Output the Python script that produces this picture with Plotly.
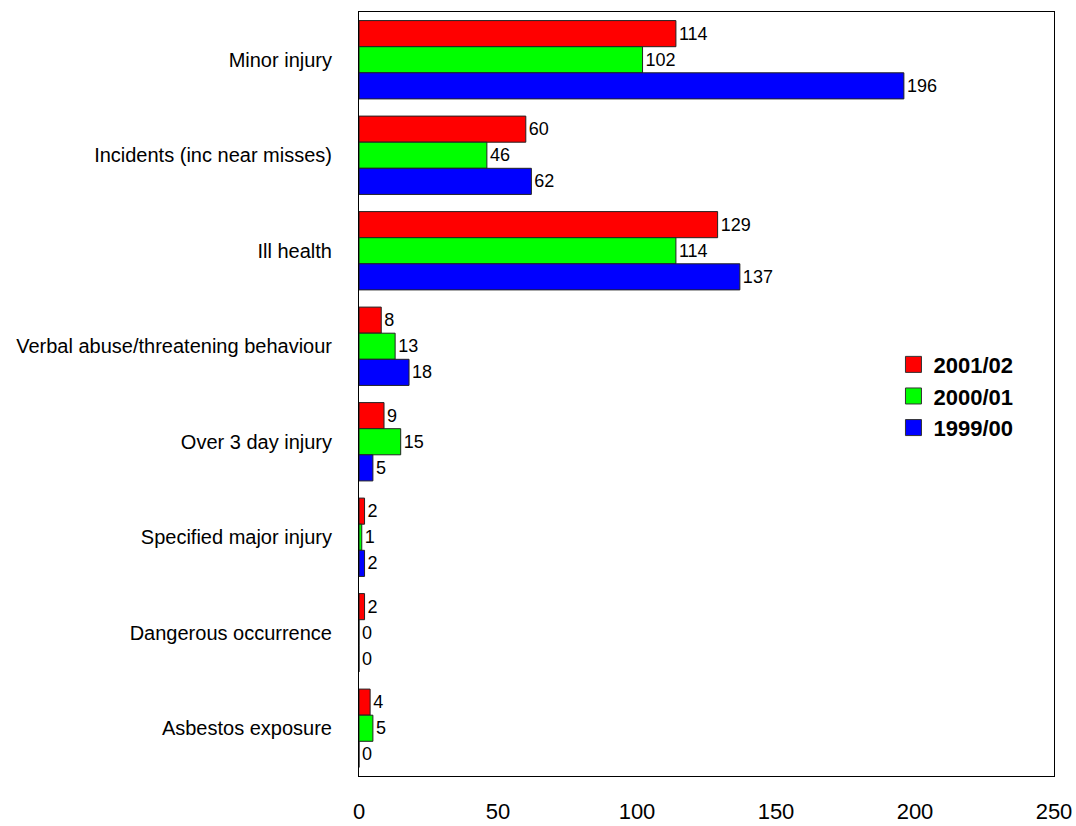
import plotly.graph_objects as go

categories = [
    "Minor injury",
    "Incidents (inc near misses)",
    "Ill health",
    "Verbal abuse/threatening behaviour",
    "Over 3 day injury",
    "Specified major injury",
    "Dangerous occurrence",
    "Asbestos exposure",
]
years = ["2001/02", "2000/01", "1999/00"]
values_2001_02 = [114, 60, 129, 8, 9, 2, 2, 4]
values_2000_01 = [102, 46, 114, 13, 15, 1, 0, 5]
values_1999_00 = [196, 62, 137, 18, 5, 2, 0, 0]
colors = ["#ff0000", "#00ff00", "#0000ff"]
x_ticks = [0, 50, 100, 150, 200, 250]

FONT = "Arial, Liberation Sans"

fig = go.Figure()
for name, vals, col in zip(years, [values_2001_02, values_2000_01, values_1999_00], colors):
    fig.add_trace(go.Bar(
        y=categories, x=vals, name=name, orientation="h", showlegend=False,
        marker=dict(color=col, line=dict(color="#222222", width=1)),
        text=[str(v) for v in vals], textposition="outside",
        constraintext="none",
        textfont=dict(family=FONT, size=18, color="black"),
        cliponaxis=False,
    ))

# legend entries with square swatches
for name, col in zip(years, colors):
    fig.add_trace(go.Scatter(
        x=[None], y=[None], mode="markers", name=name,
        marker=dict(symbol="square", size=16, color=col,
                    line=dict(color="#333333", width=1)),
    ))

fig.update_layout(
    width=1076, height=826,
    margin=dict(l=359, r=22, t=12, b=50),
    paper_bgcolor="white", plot_bgcolor="white",
    barmode="group", bargap=0.18, bargroupgap=0,
    font=dict(family=FONT, color="black"),
    showlegend=True,
    legend=dict(
        x=0.769, y=0.566, xanchor="left", yanchor="top",
        font=dict(size=22, family=FONT, weight="bold"),
        bgcolor="rgba(0,0,0,0)", tracegroupgap=0, itemwidth=30,
    ),
)
fig.update_xaxes(
    range=[0, 250], tickvals=x_ticks, showgrid=False, zeroline=False,
    showline=True, linecolor="black", linewidth=1, mirror=True,
    ticks="outside", ticklen=16, tickcolor="rgba(0,0,0,0)",
    tickfont=dict(size=22), automargin=False,
)
fig.update_yaxes(
    autorange="reversed", showgrid=False, zeroline=False,
    showline=True, linecolor="black", linewidth=1, mirror=True,
    ticks="outside", ticklen=22, tickcolor="rgba(0,0,0,0)",
    tickfont=dict(size=20), automargin=False,
)
fig.write_html("out.html")
